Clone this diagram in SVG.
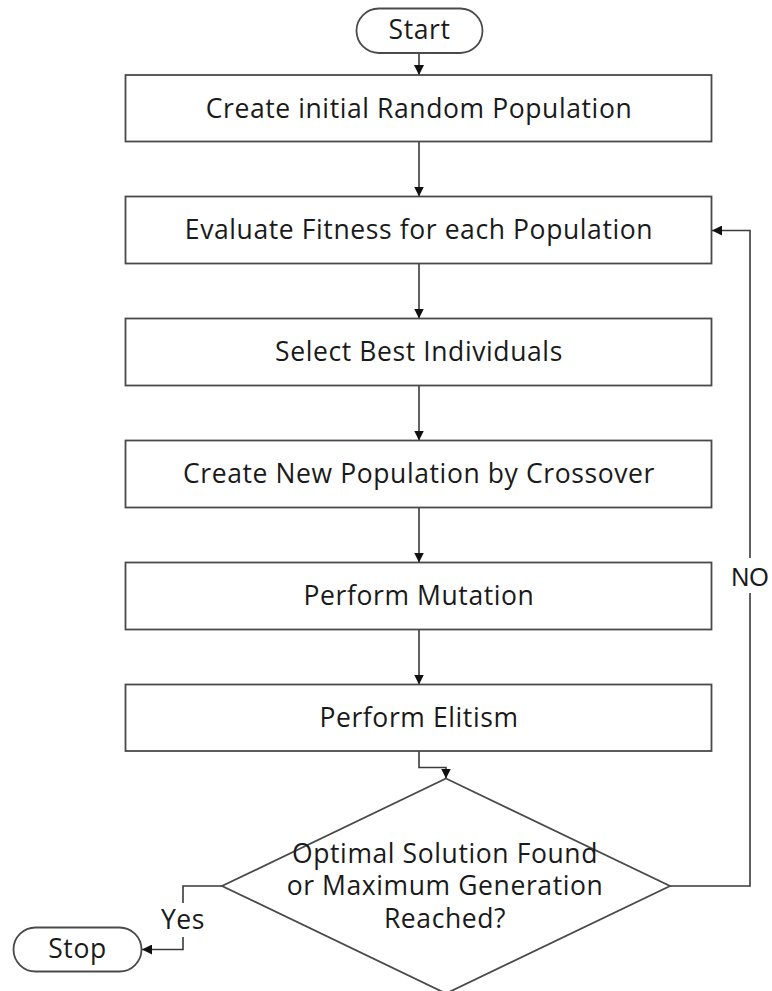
<svg xmlns="http://www.w3.org/2000/svg" width="772" height="991" viewBox="0 0 772 991">
  <style>
    .shape { fill: #ffffff; stroke: #4a4a4a; stroke-width: 1.8; }
    .link { fill: none; stroke: #3a3a3a; stroke-width: 1.6; }
    .label { font-family: "Open Sans", "Noto Sans", sans-serif; font-size: 26.5px; letter-spacing: 0.6px; fill: #1a1a1a; text-anchor: middle; }
    .tag { font-family: "Liberation Sans", Arial, sans-serif; font-size: 25px; fill: #1a1a1a; text-anchor: middle; }
  </style>
  <defs>
    <marker id="arrow" viewBox="0 0 10 10" refX="10" refY="5" markerWidth="10" markerHeight="10" markerUnits="userSpaceOnUse" orient="auto">
      <path d="M0,0 L10,5 L0,10 z" fill="#111111"/>
    </marker>
  </defs>

  <rect width="772" height="991" fill="#ffffff"/>

  <!-- connectors -->
  <g id="connectors">
    <path class="link" d="M419,53 V75" marker-end="url(#arrow)"/>
    <path class="link" d="M419,141.5 V196.5" marker-end="url(#arrow)"/>
    <path class="link" d="M419,263.5 V318.5" marker-end="url(#arrow)"/>
    <path class="link" d="M419,385.5 V440.5" marker-end="url(#arrow)"/>
    <path class="link" d="M419,507.5 V562.5" marker-end="url(#arrow)"/>
    <path class="link" d="M419,629.5 V684.5" marker-end="url(#arrow)"/>
    <path class="link" d="M419,751 V767.5 H446 V778.5" marker-end="url(#arrow)"/>
    <!-- NO loop back to fitness evaluation -->
    <path class="link" d="M670,886 H750 V593"/>
    <path class="link" d="M750,558 V230.5 H712" marker-end="url(#arrow)"/>
    <text class="tag" x="750" y="586">NO</text>
    <!-- Yes branch to stop -->
    <path class="link" d="M222,886 H183 V903"/>
    <path class="link" d="M183,937 V949.5 H142" marker-end="url(#arrow)"/>
    <text class="label" x="183" y="929">Yes</text>
  </g>

  <g id="start">
    <rect class="shape" x="356.5" y="8.5" width="126" height="44.5" rx="22.25"/>
    <text class="label" x="419.5" y="39">Start</text>
  </g>

  <g id="init-population">
    <rect class="shape" x="125.5" y="75" width="586" height="66.5"/>
    <text class="label" x="419" y="117.5">Create initial Random Population</text>
  </g>

  <g id="evaluate-fitness">
    <rect class="shape" x="125.5" y="196.5" width="586" height="67"/>
    <text class="label" x="419" y="239">Evaluate Fitness for each Population</text>
  </g>

  <g id="select-best">
    <rect class="shape" x="125.5" y="318.5" width="586" height="67"/>
    <text class="label" x="419" y="361">Select Best Individuals</text>
  </g>

  <g id="crossover">
    <rect class="shape" x="125.5" y="440.5" width="586" height="67"/>
    <text class="label" x="419" y="483">Create New Population by Crossover</text>
  </g>

  <g id="mutation">
    <rect class="shape" x="125.5" y="562.5" width="586" height="67"/>
    <text class="label" x="419" y="605">Perform Mutation</text>
  </g>

  <g id="elitism">
    <rect class="shape" x="125.5" y="684.5" width="586" height="66.5"/>
    <text class="label" x="419" y="727">Perform Elitism</text>
  </g>

  <g id="termination-check">
    <path class="shape" d="M446,778.5 L670,886 L446,993.5 L222,886 Z"/>
    <text class="label" x="445" y="862.5">Optimal Solution Found</text>
    <text class="label" x="445" y="895">or Maximum Generation</text>
    <text class="label" x="445" y="927.5">Reached?</text>
  </g>

  <g id="stop">
    <rect class="shape" x="13.5" y="927.5" width="128" height="44" rx="22"/>
    <text class="label" x="77.5" y="958">Stop</text>
  </g>
</svg>
